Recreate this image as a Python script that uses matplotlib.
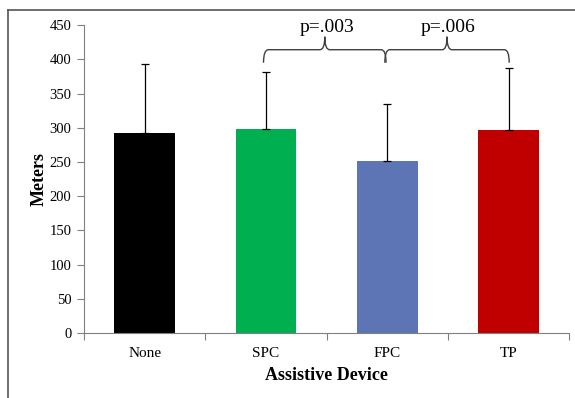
import matplotlib.pyplot as plt
from matplotlib.path import Path
from matplotlib.patches import PathPatch
from matplotlib.lines import Line2D

# Données
devices = ['None', 'SPC', 'FPC', 'TP']
meters = [292, 298, 251, 297]
sd = [101, 83, 84, 90]
bar_colors = ['#000000', '#00b050', '#5e75b5', '#c00000']
comparisons = [(1, 2, 'p=.003'), (2, 3, 'p=.006')]

plt.rcParams['font.family'] = ['Liberation Serif', 'DejaVu Serif']

fig = plt.figure(figsize=(5.75, 3.98), dpi=100)
ax = fig.add_axes([0.146, 0.163, 0.844, 0.774])

x = range(len(devices))
ax.bar(x, meters, width=0.5, color=bar_colors, zorder=2)
ax.errorbar(x, meters, yerr=[[0] * len(sd), sd], fmt='none', ecolor='black',
            elinewidth=0.9, capsize=3, capthick=0.9, zorder=3)


def accolade(ax, x1, x2, y0, y1, y2):
    """Dessine une accolade horizontale entre x1 et x2"""
    xm = (x1 + x2) / 2
    r = 0.04
    verts = [(x1, y0), (x1, y1), (x1 + r, y1),
             (xm - r, y1), (xm, y1), (xm, y2),
             (xm, y1), (xm + r, y1),
             (x2 - r, y1), (x2, y1), (x2, y0)]
    codes = [Path.MOVETO, Path.CURVE3, Path.CURVE3,
             Path.LINETO, Path.CURVE3, Path.CURVE3,
             Path.CURVE3, Path.CURVE3,
             Path.LINETO, Path.CURVE3, Path.CURVE3]
    ax.add_patch(PathPatch(Path(verts, codes), fill=False, lw=1.0,
                           edgecolor='#404040', clip_on=False, zorder=4))


for i, j, label in comparisons:
    accolade(ax, i - 0.02, j - 0.01 if j == 2 else j + 0.005, 395, 414, 433)
    ax.text((i + j) / 2, 434, label, ha='center', va='bottom', fontsize=14)

ax.set_xlim(-0.5, 3.5)
ax.set_ylim(0, 450)
ax.set_yticks(range(0, 451, 50))
ax.set_xticks([-0.5, 0.5, 1.5, 2.5, 3.5])
ax.set_xticklabels([])
ax.set_xticks(list(x), minor=True)
ax.set_xticklabels(devices, minor=True, fontsize=11)
ax.tick_params(axis='x', which='minor', length=0, pad=10)
ax.tick_params(axis='x', which='major', length=5, color='#808080')
ax.tick_params(axis='y', length=5, color='#808080', labelsize=10.5, pad=4)

for side in ['top', 'right']:
    ax.spines[side].set_visible(False)
for side in ['left', 'bottom']:
    ax.spines[side].set_color('#808080')

ax.set_ylabel('Meters', fontsize=13, fontweight='bold', labelpad=1)
ax.set_xlabel('Assistive Device', fontsize=13, fontweight='bold', labelpad=5)

# Cadre de la diapositive
fig.add_artist(Line2D([7.5 / 575, 7.5 / 575], [0, 1 - 10 / 398],
                      transform=fig.transFigure, color='#555555', lw=1.2))
fig.add_artist(Line2D([7.5 / 575, 1], [1 - 10 / 398, 1 - 10 / 398],
                      transform=fig.transFigure, color='#555555', lw=1.2))

fig.savefig('out.png', dpi=100, facecolor='white')
